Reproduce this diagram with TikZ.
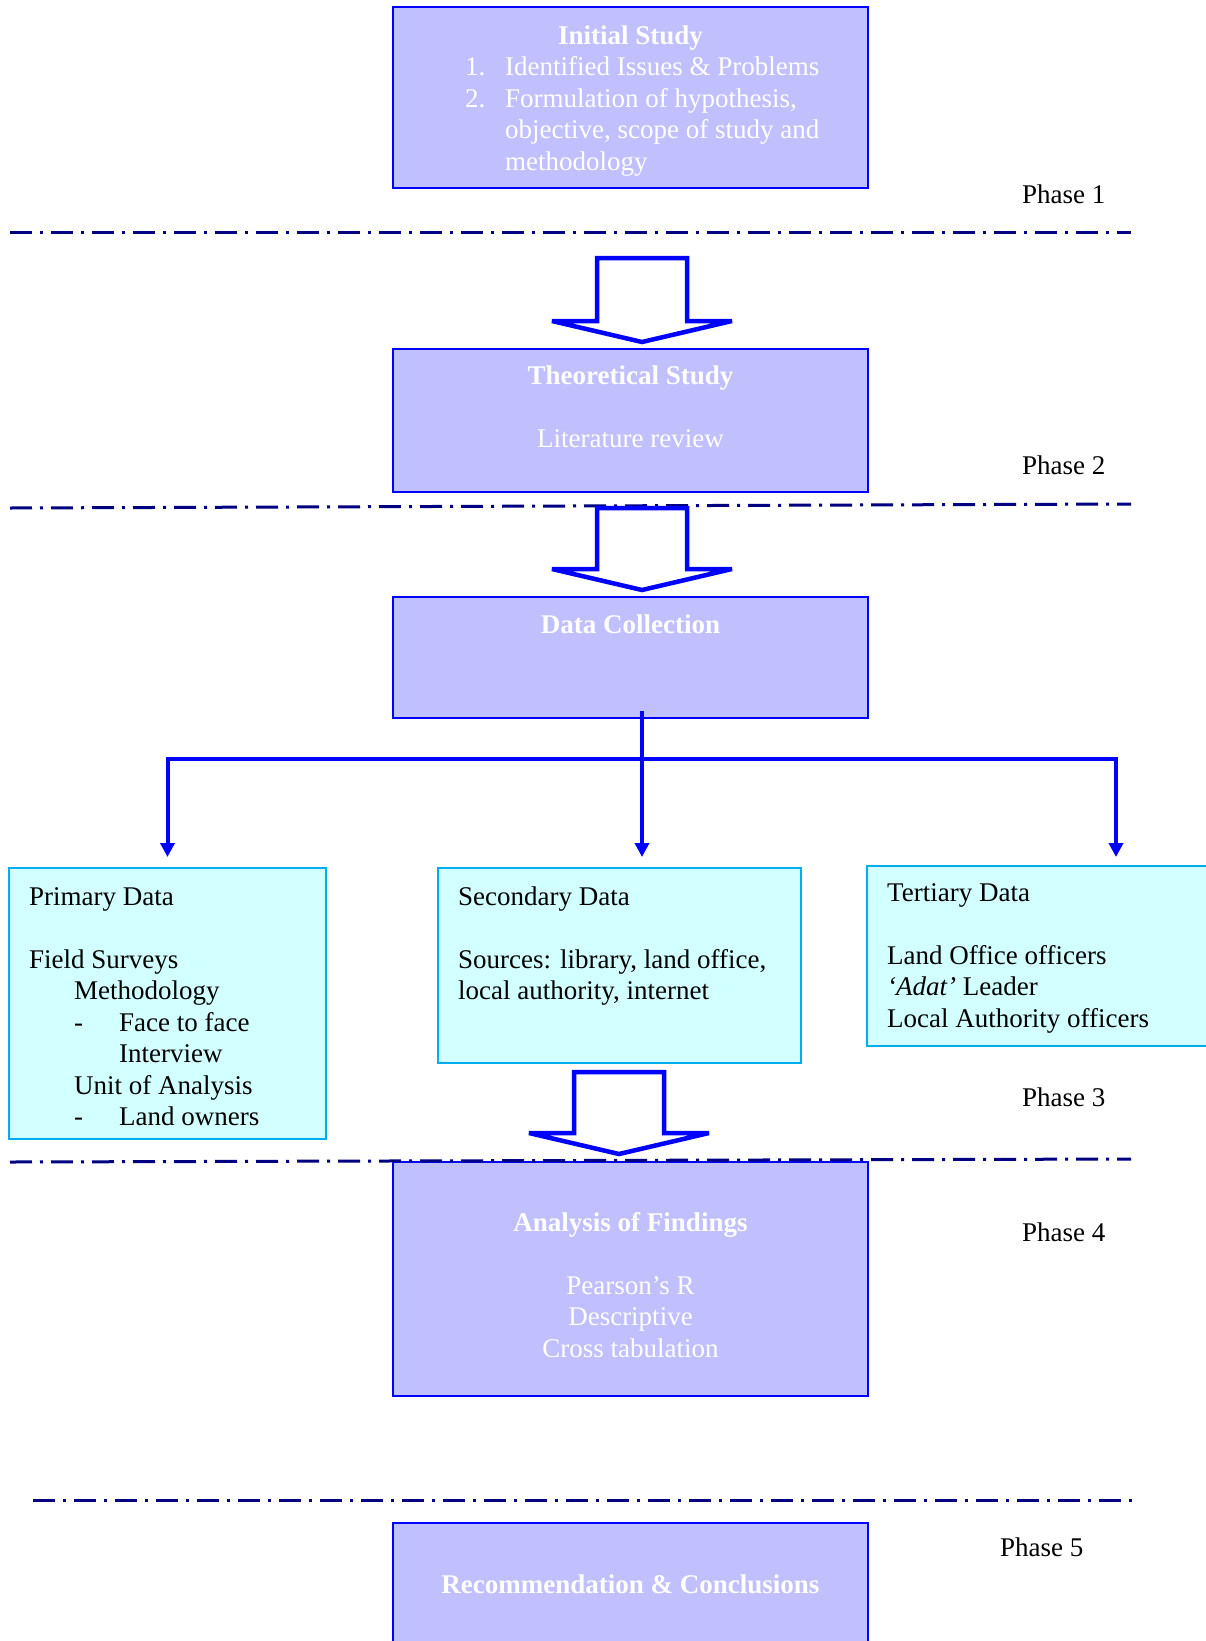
\documentclass[tikz,border=0pt]{standalone}
\usepackage{fontspec}
\setmainfont{Liberation Serif}
\usepackage{tikz}
\usetikzlibrary{arrows.meta,calc}

\definecolor{stageblue}{RGB}{192,192,255}
\definecolor{datacyan}{RGB}{210,255,255}
\definecolor{phasenavy}{RGB}{0,0,128}
\newcommand{\tabind}{\hspace*{45pt}}
% centre x, top, shoulder, tip
\newcommand{\blockarrow}[4]{\draw[bigarrow] (#1-45,#2) -- (#1+45,#2) -- (#1+45,#3) -- (#1+90,#3) -- (#1,#4) -- (#1-90,#3) -- (#1-45,#3) -- cycle;}

\begin{document}
\begin{tikzpicture}[x=1pt,y=-1pt,>={Triangle[width=14pt,length=14pt]},font=\fontsize{27pt}{31.5pt}\selectfont]
    \tikzstyle{stage}=[draw=blue,line width=2.5pt,fill=stageblue,minimum width=475pt,inner sep=0pt]
    \tikzstyle{data}=[draw=cyan,line width=2pt,fill=datacyan,inner sep=0pt]
    \tikzstyle{stagetext}=[text=white,inner sep=0pt,anchor=base,align=center]
    \tikzstyle{datatext}=[inner sep=0pt,anchor=base west,align=left]
    \tikzstyle{phase}=[inner sep=0pt,anchor=base west]
    \tikzstyle{divider}=[draw=phasenavy,line width=3pt,dash pattern=on 22pt off 8pt on 3pt off 8pt]
    \tikzstyle{bigarrow}=[draw=blue,line width=4.5pt,fill=white,miter limit=2]
    \tikzstyle{link}=[draw=blue,line width=4pt]

    \useasboundingbox (0,0) rectangle (1206,1641);

    % stage boxes
    \node[stage,minimum height=181pt] (init)     at (630.5,97.5)  {};
    \node[stage,minimum height=143pt] (theory)   at (630.5,420.5) {};
    \node[stage,minimum height=121pt] (collect)  at (630.5,657.5) {};
    \node[stage,minimum height=234pt] (analysis) at (630.5,1279)  {};
    \node[stage,minimum height=137pt] (conclude) at (630.5,1591.5) {};

    % multi-line texts sit on the baseline of their last line
    \node[stagetext] (inittitle) at (630.5,44) {\bfseries Initial Study};
    \node[datatext,text=white] (initlist) at (465,170) {\makebox[40pt][l]{1.}Identified Issues \& Problems\\
        \makebox[40pt][l]{2.}Formulation of hypothesis,\\
        \hspace*{40pt}objective, scope of study and\\
        \hspace*{40pt}methodology};
    \node[stagetext] (theorytext)   at (630.5,447)  {\textbf{Theoretical Study}\\[31.5pt]Literature review};
    \node[stagetext] (collecttext)  at (630.5,633)  {\bfseries Data Collection};
    \node[stagetext] (analysistext) at (630.5,1357) {\textbf{Analysis of Findings}\\[31.5pt]Pearson's R\\Descriptive\\Cross tabulation};
    \node[stagetext] (concludetext) at (630.5,1593) {\bfseries Recommendation \& Conclusions};

    % data boxes
    \node[data,minimum width=317pt,minimum height=271pt] (primary)   at (167.5,1003.5) {};
    \node[data,minimum width=363pt,minimum height=195pt] (secondary) at (619.5,965.5)  {};
    \node[data,minimum width=350pt,minimum height=180pt] (tertiary)  at (1042,956)     {};

    \node[datatext] (primarytext) at (29,1125.5) {Primary Data\\[31.5pt]Field Surveys\\
        \tabind Methodology\\
        \tabind\makebox[45pt][l]{-}Face to face\\
        \tabind\tabind Interview\\
        \tabind Unit of Analysis\\
        \tabind\makebox[45pt][l]{-}Land owners};
    \node[datatext] (secondarytext) at (458,999.5) {Secondary Data\\[31.5pt]Sources: library, land office,\\local authority, internet};
    \node[datatext] (tertiarytext)  at (887,1027) {Tertiary Data\\[31.5pt]Land Office officers\\\textit{`Adat'} Leader\\Local Authority officers};

    % phases
    \node[phase] (p1) at (1022,203)  {Phase 1};
    \node[phase] (p2) at (1022,474)  {Phase 2};
    \node[phase] (p3) at (1022,1106) {Phase 3};
    \node[phase] (p4) at (1022,1241) {Phase 4};
    \node[phase] (p5) at (1000,1556) {Phase 5};

    \draw[divider] (10,232) -- (1131,232);
    \draw[divider] (10,508) -- (1131,504);
    \draw[divider] (10,1162) -- (1131,1159);
    \draw[divider] (33,1500) -- (1139,1500);

    % flow
    \blockarrow{642}{258}{321}{342}
    \blockarrow{642}{508}{569}{590}
    \blockarrow{619}{1072}{1133}{1154}

    \coordinate (drop) at (642,711);
    \coordinate (hub) at (642,759);
    \coordinate (tertin) at (1116,857);
    \draw[link] (drop) -- (hub);
    \draw[link,->,shorten >=10pt] (hub) -| (primary.north);
    \draw[link,->,shorten >=10pt] (hub) -- (hub |- secondary.north);
    \draw[link,->] (hub) -| (tertin);
\end{tikzpicture}
\end{document}
